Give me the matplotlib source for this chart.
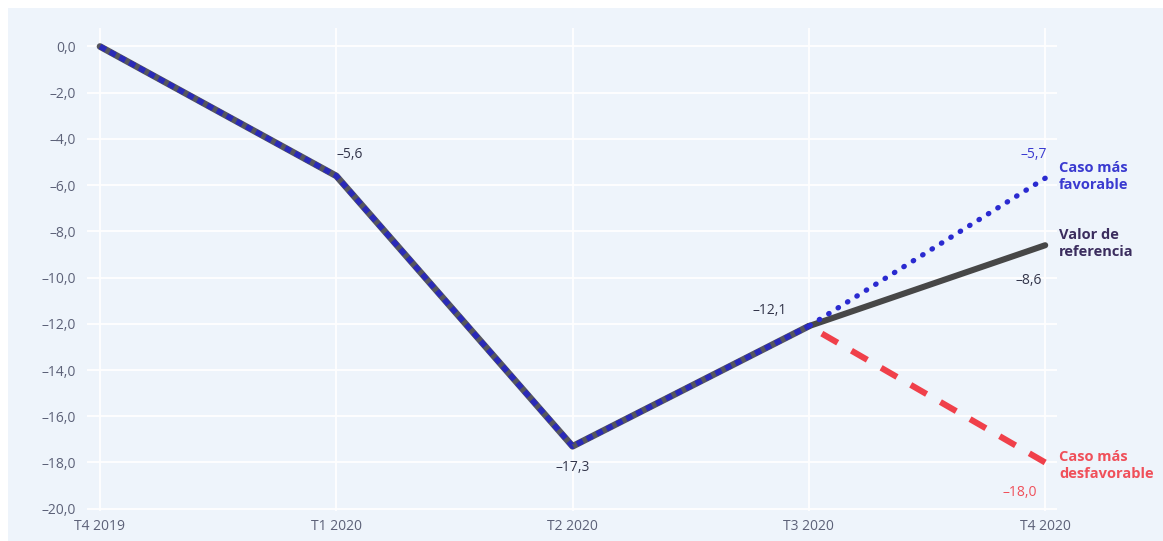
import matplotlib
matplotlib.use("Agg")
import matplotlib.pyplot as plt

quarters = ["T4 2019", "T1 2020", "T2 2020", "T3 2020", "T4 2020"]
historical = [0.0, -5.6, -17.3, -12.1]
favorable = [-12.1, -5.7]
reference = [-12.1, -8.6]
unfavorable = [-12.1, -18.0]
y_ticks = [0, -2, -4, -6, -8, -10, -12, -14, -16, -18, -20]

def fmt(v):
    s = f"{abs(v):.1f}".replace(".", ",")
    return ("\u2013" + s) if v < 0 else s

plt.rcParams['font.family'] = ['Open Sans', 'DejaVu Sans']

W, H = 1163, 541
fig = plt.figure(figsize=(W / 100, H / 100), dpi=100)
fig.patch.set_facecolor("white")
bg = fig.add_axes([8 / W, 0, 1 - 8 / W, 1 - 8 / H])
bg.set_facecolor("#eef4fb")
bg.set_xticks([]); bg.set_yticks([])
for s in bg.spines.values():
    s.set_visible(False)

left, right, top, bottom = 87, 1057, 28, 511
ax = fig.add_axes([left / W, 1 - bottom / H, (right - left) / W, (bottom - top) / H])
ax.set_facecolor("none")
for s in ax.spines.values():
    s.set_visible(False)

x_hist = list(range(len(historical)))
x_proj = [3, 4]

ax.set_xlim(-0.055, 4.05)
ax.set_ylim(-20.1, 0.8)
ax.set_xticks(range(len(quarters)))
ax.set_xticklabels(quarters)
ax.set_yticks(y_ticks)
ax.set_yticklabels([fmt(v) for v in y_ticks])
ax.grid(True, color="white", linewidth=1.3)
ax.set_axisbelow(True)
ax.tick_params(length=0, labelsize=10, colors="#5c6178", pad=8)
ax.tick_params(axis="x", pad=6)

# historical: gray line with blue dashes
ax.plot(x_hist, historical, color="#55555e", linewidth=4.8, solid_capstyle="round", zorder=3)
ax.plot(x_hist, historical, color="#2a2ab8", linewidth=4.0, linestyle=(0, (1.2, 0.8)), zorder=4)

# projections (drawn from the end point so patterns end on a mark)
ax.plot(x_proj[::-1], reference[::-1], color="#474747", linewidth=4.4,
        solid_capstyle="round", zorder=3)
ax.plot(x_proj[::-1], favorable[::-1], color="#2a2ad0", linewidth=3.8,
        linestyle=(0, (0.1, 2.0)), dash_capstyle="round", zorder=4)
ax.plot(x_proj[::-1], unfavorable[::-1], color="#f0404a", linewidth=4.4,
        linestyle=(0, (3, 2.6)), zorder=3)

tc = "#33354a"
fs = 10
ax.annotate(fmt(historical[1]), (1, historical[1]), xytext=(10, 10), textcoords="offset points",
            ha="center", va="bottom", fontsize=fs, color=tc)
ax.annotate(fmt(historical[2]), (2, historical[2]), xytext=(0, -10), textcoords="offset points",
            ha="center", va="top", fontsize=fs, color=tc)
ax.annotate(fmt(historical[3]), (3, historical[3]), xytext=(-28, 6), textcoords="offset points",
            ha="center", va="bottom", fontsize=fs, color=tc)
ax.annotate(fmt(favorable[1]), (4, favorable[1]), xytext=(-8, 12), textcoords="offset points",
            ha="center", va="bottom", fontsize=fs, color="#3a3ad0")
ax.annotate(fmt(reference[1]), (4, reference[1]), xytext=(-12, -20), textcoords="offset points",
            ha="center", va="top", fontsize=fs, color=tc)
ax.annotate(fmt(unfavorable[1]), (4, unfavorable[1]), xytext=(-18, -16), textcoords="offset points",
            ha="center", va="top", fontsize=fs, color="#f0505a")

lfs = 10.5
ax.annotate("Caso más\nfavorable", (4, favorable[1]), xytext=(10, 1), textcoords="offset points",
            ha="left", va="center", fontsize=lfs, color="#3a3ad0", fontweight="bold",
            linespacing=1.25, annotation_clip=False)
ax.annotate("Valor de\nreferencia", (4, reference[1]), xytext=(10, 1), textcoords="offset points",
            ha="left", va="center", fontsize=lfs, color="#3b2d5e", fontweight="bold",
            linespacing=1.25, annotation_clip=False)
ax.annotate("Caso más\ndesfavorable", (4, unfavorable[1]), xytext=(10, -2), textcoords="offset points",
            ha="left", va="center", fontsize=lfs, color="#f0505a", fontweight="bold",
            linespacing=1.25, annotation_clip=False)

fig.savefig("out.png", dpi=100)
